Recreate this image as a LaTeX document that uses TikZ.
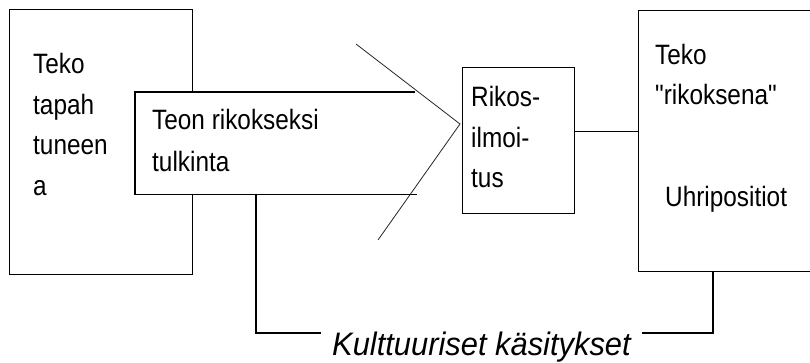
\documentclass[tikz,border=0pt]{standalone}
\usepackage{fontspec}
\setmainfont[FakeStretch=0.87, Ligatures=TeXOff]{Liberation Sans}
\newfontfamily\kfont[FakeStretch=0.95]{Liberation Sans}
\begin{document}
\begin{tikzpicture}[x=1pt,y=-1pt,
  box/.style={draw=black, line width=1.4pt, inner sep=0pt},
  thinline/.style={draw=black!85, line width=0.8pt},
  conn/.style={draw=black, line width=1.4pt},
  txt/.style={anchor=base west, inner sep=0pt, font=\fontsize{28}{28}\selectfont},
  ktxt/.style={anchor=base west, inner sep=0pt, font=\kfont\itshape\fontsize{32.5}{32.5}\selectfont}]
\path[use as bounding box, fill=white] (0,0) rectangle (810,363);
\clip (0,0) rectangle (810,363);
% boxes
\node[box, anchor=north west, minimum width=183pt, minimum height=265pt] (left) at (9,9) {};
\node[fill=white, inner sep=0pt, anchor=north west, minimum width=280pt, minimum height=102pt] (mid) at (135,92) {};
\draw[conn] (mid.north east) -- (mid.north west) -- (mid.south west) -- ([xshift=2pt]mid.south east);
\node[box, anchor=north west, minimum width=112pt, minimum height=146pt] (rikos) at (462,67) {};
\node[box, anchor=north west, minimum width=220pt, minimum height=261pt] (right) at (638,10) {};
% arrow-like diagonals
\coordinate (tip) at (460,124);
\coordinate (d1) at (356,44);
\coordinate (d2) at (378,240);
\draw[thinline] (d1) -- (tip) -- (d2);
% texts
\node[txt] (t1) at (33,74) {Teko};
\node[txt] (t2) at (33,115) {tapah};
\node[txt] (t3) at (33,155) {tuneen};
\node[txt] (t4) at (33,196) {a};
\node[txt] (m1) at (152,130) {Teon rikokseksi};
\node[txt] (m2) at (152,172) {tulkinta};
\node[txt] (r1) at (471,107) {Rikos-};
\node[txt] (r2) at (471,148) {ilmoi-};
\node[txt] (r3) at (471,188) {tus};
\node[txt] (q1) at (655,65) {Teko};
\node[txt] (q2) at (655,105) {"rikoksena"};
\node[txt] (q3) at (665,207) {Uhripositiot};
\node[ktxt] (kt) at (332,355) {Kulttuuriset käsitykset};
% connectors
\draw[conn] ([yshift=9pt]rikos.east) -- ([yshift=9pt]rikos.east -| right.west);
\coordinate (c1) at (256,194);
\coordinate (c2) at (256,333);
\coordinate (c3) at (321,333);
\coordinate (c4) at (642,333);
\coordinate (c5) at (713,333);
\coordinate (c6) at (713,271);
\draw[conn] (c1) -- (c2) -- (c3);
\draw[conn] (c4) -- (c5) -- (c6);
\end{tikzpicture}
\end{document}
